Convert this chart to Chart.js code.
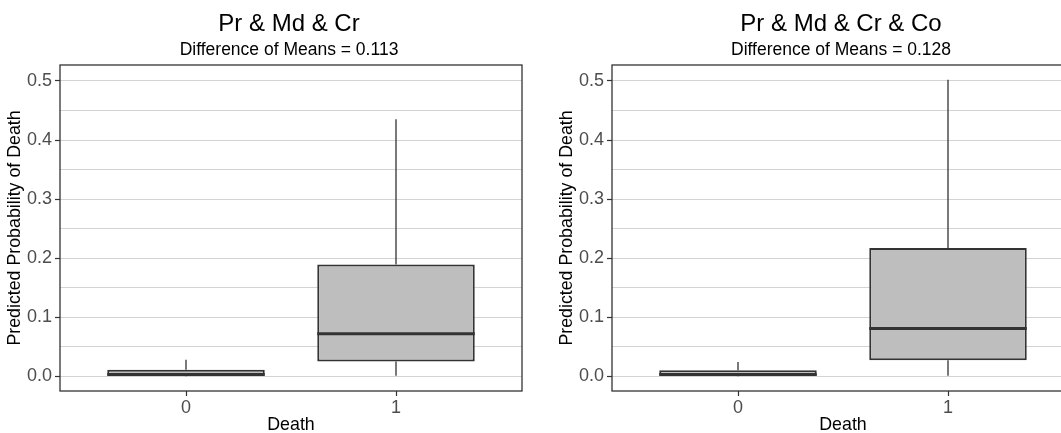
<!DOCTYPE html>
<html>
<head>
<meta charset="utf-8">
<script src="https://cdn.jsdelivr.net/npm/chart.js@4.4.1/dist/chart.umd.min.js"></script>
<style>
  body { margin: 0; width: 1061px; height: 433px; overflow: hidden; background: #ffffff; }
  .panel { position: absolute; top: 0; width: 552px; height: 433px; }
</style>
</head>
<body>
<div class="panel" style="left:0"><canvas id="chartCr"></canvas></div>
<div class="panel" style="left:552px"><canvas id="chartCo"></canvas></div>
<script>
// Boxplot data (Death = 0 / 1)
const categories = [0, 1];
const yMajorTicks = [0, 0.1, 0.2, 0.3, 0.4, 0.5];
const yMinorTicks = [0.05, 0.15, 0.25, 0.35, 0.45];

// Pr & Md & Cr
const crLower  = [0.000, 0.001];
const crQ1     = [0.001, 0.025];
const crMedian = [0.003, 0.072];
const crQ3     = [0.011, 0.189];
const crUpper  = [0.028, 0.435];

// Pr & Md & Cr & Co
const coLower  = [0.000, 0.001];
const coQ1     = [0.001, 0.027];
const coMedian = [0.003, 0.081];
const coQ3     = [0.010, 0.217];
const coUpper  = [0.024, 0.502];

const FONT = '"Liberation Sans", Arial, sans-serif';
const DARK = '#333333';

function esMayor(v) {
    return yMajorTicks.some(t => Math.abs(t - v) < 1e-9);
}

// whiskers below the boxes, medians and panel border on top
function pluginCaja(lower, median, upper, q1, q3) {
    return {
        id: 'cajas',
        beforeDatasetsDraw(chart) {
            const ctx = chart.ctx;
            const x = chart.scales.x, y = chart.scales.y;
            ctx.save();
            ctx.strokeStyle = DARK;
            ctx.lineWidth = 1.3;
            categories.forEach((c, i) => {
                const px = x.getPixelForValue(c);
                ctx.beginPath();
                ctx.moveTo(px, y.getPixelForValue(q3[i]));
                ctx.lineTo(px, y.getPixelForValue(upper[i]));
                ctx.moveTo(px, y.getPixelForValue(q1[i]));
                ctx.lineTo(px, y.getPixelForValue(lower[i]));
                ctx.stroke();
            });
            ctx.restore();
        },
        afterDatasetsDraw(chart) {
            const ctx = chart.ctx;
            const y = chart.scales.y;
            const bars = chart.getDatasetMeta(0).data;
            ctx.save();
            ctx.strokeStyle = DARK;
            ctx.lineWidth = 3;
            bars.forEach((bar, i) => {
                const py = y.getPixelForValue(median[i]);
                ctx.beginPath();
                ctx.moveTo(bar.x - bar.width / 2, py);
                ctx.lineTo(bar.x + bar.width / 2, py);
                ctx.stroke();
            });
            const a = chart.chartArea;
            ctx.lineWidth = 1.3;
            ctx.strokeRect(a.left, a.top, a.right - a.left, a.bottom - a.top);
            ctx.restore();
        }
    };
}

function pluginTitulos(titulo, subtitulo) {
    return {
        id: 'titulos',
        afterDraw(chart) {
            const ctx = chart.ctx;
            const a = chart.chartArea;
            const cx = (a.left + a.right) / 2 - 2;
            ctx.save();
            ctx.fillStyle = '#000000';
            ctx.textAlign = 'center';
            ctx.textBaseline = 'alphabetic';
            ctx.font = '24px ' + FONT;
            ctx.fillText(titulo, cx, 31);
            ctx.font = '17.5px ' + FONT;
            ctx.fillText(subtitulo, cx, 55);
            ctx.restore();
        }
    };
}

function crearPanel(id, titulo, subtitulo, lower, q1, median, q3, upper) {
    const yTicks = yMajorTicks.concat(yMinorTicks).sort((a, b) => a - b);
    new Chart(document.getElementById(id), {
        type: 'bar',
        data: {
            datasets: [{
                data: categories.map((c, i) => ({ x: c, y: [q1[i], q3[i]] })),
                backgroundColor: '#bebebe',
                borderColor: DARK,
                borderWidth: 2,
                borderSkipped: false,
                categoryPercentage: 1,
                barPercentage: 0.75
            }]
        },
        options: {
            responsive: true,
            maintainAspectRatio: false,
            animation: false,
            layout: { padding: { top: 65, right: 30, left: 0, bottom: 0 } },
            plugins: {
                legend: { display: false },
                tooltip: { enabled: false }
            },
            scales: {
                x: {
                    type: 'linear',
                    min: -0.6,
                    max: 1.6,
                    offset: false,
                    afterBuildTicks: s => { s.ticks = categories.map(v => ({ value: v })); },
                    afterFit: s => { s.height = 42; },
                    grid: { offset: false, color: 'rgba(0,0,0,0)', tickLength: 5, tickColor: DARK, tickWidth: 1.2 },
                    border: { display: false },
                    ticks: {
                        padding: 1,
                        color: '#4d4d4d',
                        font: { family: FONT, size: 18 },
                        callback: v => String(v)
                    },
                    title: {
                        display: true,
                        text: 'Death',
                        color: '#000000',
                        font: { family: FONT, size: 17.8 },
                        padding: { top: 0, bottom: -3 }
                    }
                },
                y: {
                    min: -0.025,
                    max: 0.527,
                    afterBuildTicks: s => { s.ticks = yTicks.map(v => ({ value: v })); },
                    afterFit: s => { s.width = 60; },
                    grid: {
                        color: '#d3d3d3',
                        lineWidth: 1,
                        tickLength: 5,
                        tickWidth: 1.2,
                        tickColor: c => (c.tick && esMayor(c.tick.value)) ? DARK : 'rgba(0,0,0,0)'
                    },
                    border: { display: false },
                    ticks: {
                        autoSkip: false,
                        padding: 3,
                        color: '#4d4d4d',
                        font: { family: FONT, size: 18 },
                        callback: v => esMayor(v) ? v.toFixed(1) : ''
                    },
                    title: {
                        display: true,
                        text: 'Predicted Probability of Death',
                        color: '#000000',
                        font: { family: FONT, size: 17.8 },
                        padding: { top: 4, bottom: 0 }
                    }
                }
            }
        },
        plugins: [pluginCaja(lower, median, upper, q1, q3), pluginTitulos(titulo, subtitulo)]
    });
}

crearPanel('chartCr', 'Pr & Md & Cr', 'Difference of Means = 0.113', crLower, crQ1, crMedian, crQ3, crUpper);
crearPanel('chartCo', 'Pr & Md & Cr & Co', 'Difference of Means = 0.128', coLower, coQ1, coMedian, coQ3, coUpper);
</script>
</body>
</html>
